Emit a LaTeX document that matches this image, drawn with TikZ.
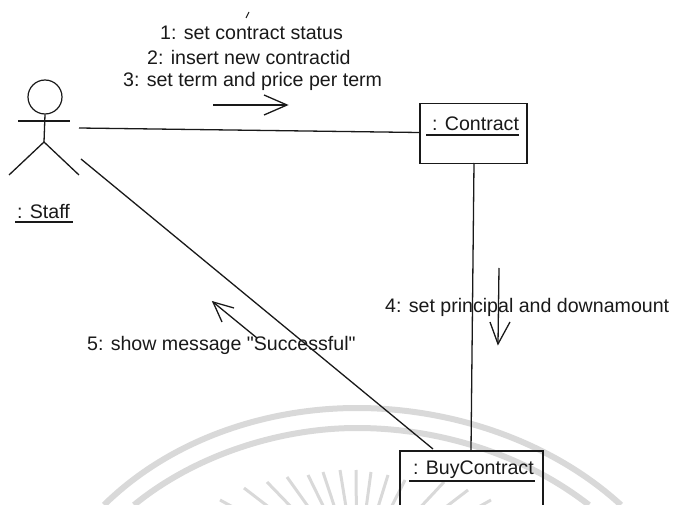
\documentclass[tikz,border=0pt]{standalone}
\usepackage{fontspec}
\usetikzlibrary{calc}
\newfontfamily\labelfont{Liberation Sans}
\tikzset{
  ink/.style={draw=black!90,line width=1.3pt},
  under/.style={draw=black!90,line width=1.8pt},
  objbox/.style={draw=black!90,line width=1.5pt,rectangle,inner sep=0pt,anchor=north west},
  msg/.style={inner sep=0pt,font=\labelfont\fontsize{19.6}{22}\selectfont,text=black!90,anchor=west},
  wm/.style={draw=black!15,line width=6pt},
  wmray/.style={draw=black!15,line width=3pt},
}
\begin{document}
\begin{tikzpicture}[x=1pt,y=-1pt]
\useasboundingbox (0,0) rectangle (675,505);
\begin{scope}
\clip (0,0) rectangle (675,505);
\draw[wm] (104,505) .. controls (170,440) and (265,408) .. (357,408) .. controls (450,408) and (550,440) .. (621,505);
\draw[wm] (134,505) .. controls (195,455) and (280,428) .. (357,428) .. controls (440,428) and (525,455) .. (589,505);
\foreach \tx/\ty in {220/500,244/488,267/482,287/477,308/475,323/472,340/470,356/470,371/472,388/475,405/480,444/482,468/490,491/500}{
  \draw[wmray] (\tx,\ty) -- ($(\tx,\ty)!60pt!(357,575)$);
}
\end{scope}
% actor
\node (head) [circle,draw=black!90,line width=1.2pt,minimum size=34pt,inner sep=0pt] at (45,97) {};
\coordinate (armL) at (18,121);
\coordinate (armR) at (70,121);
\coordinate (hip) at (44,142);
\coordinate (footL) at (9,175);
\coordinate (footR) at (79,175);
\draw[ink] (armL) -- (armR);
\draw[ink] (head.south) -- (hip);
\draw[ink] (footL) -- (hip) -- (footR);
\node (staff) [msg] at (17,212) {: Staff};
\coordinate (u1a) at (15,222); \coordinate (u1b) at (73,222);
\draw[under] (u1a) -- (u1b);
% objects
\node (contract) [objbox,fill=white,minimum width=107pt,minimum height=60pt] at (419,103) {};
\node (contractL) [msg] at (432,124) {: Contract};
\coordinate (u2a) at (426,135); \coordinate (u2b) at (519,135);
\draw[under] (u2a) -- (u2b);
\node (buy) [objbox,minimum width=143pt,minimum height=70pt] at (399,450) {};
\node (buyL) [msg] at (413,470) {: BuyContract};
\coordinate (u3a) at (409,481); \coordinate (u3b) at (535,481);
\draw[under] (u3a) -- (u3b);
% links
\coordinate (staffA) at (79,128);
\coordinate (staffB) at (81,159);
\coordinate (contractW) at (419,132.5);
\coordinate (contractS) at (474,163);
\coordinate (buyN) at (471,450);
\coordinate (buyNW) at (433,449);
\draw[ink] (staffA) -- (contractW);
\draw[ink] (contractS) -- (buyN);
\draw[ink] (staffB) -- (buyNW);
% messages
\coordinate (t0) at (249,12);
\coordinate (t1) at (246,18);
\draw[draw=black!90,line width=1pt] (t0) -- (t1);
\node (m1) [msg] at (160,33) {1: set contract status};
\node (m2) [msg] at (147,57) {2: insert new contractid};
\node (m3) [msg] at (123,81) {3: set term and price per term};
\node (m4) [msg] at (385,307) {4: set principal and downamount};
\node (m5) [msg] at (87,345) {5: show message "Successful"};
% message arrows
\coordinate (a1) at (213,105); \coordinate (a2) at (287,105);
\coordinate (a3) at (264,95); \coordinate (a4) at (264,115);
\draw[ink] (a1) -- (a2); \draw[ink] (a3) -- (a2) -- (a4);
\coordinate (b1) at (499,268); \coordinate (b2) at (498,344);
\coordinate (b3) at (490,322); \coordinate (b4) at (510,322);
\draw[ink] (b1) -- (b2); \draw[ink] (b3) -- (b2) -- (b4);
\coordinate (c1) at (257,338); \coordinate (c2) at (213,302);
\coordinate (c3) at (234,308); \coordinate (c4) at (222,322);
\draw[ink] (c1) -- (c2); \draw[ink] (c3) -- (c2) -- (c4);
\end{tikzpicture}
\end{document}
